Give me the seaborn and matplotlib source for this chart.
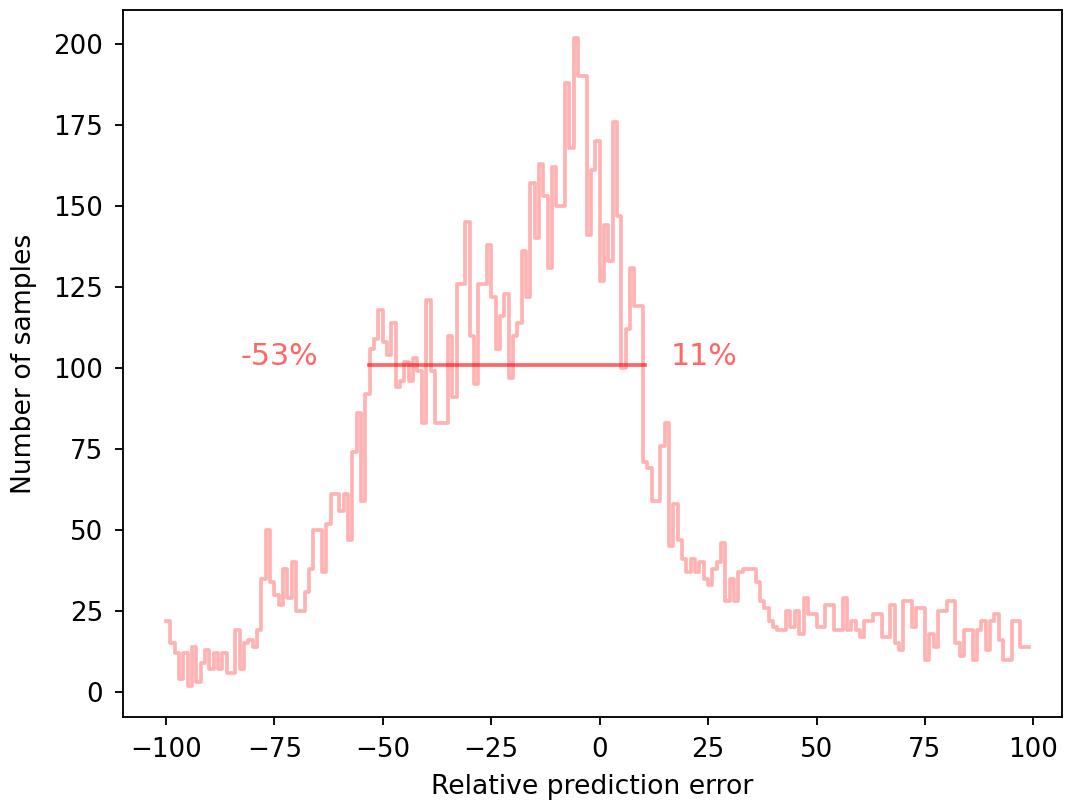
import numpy as np
import pandas as pd
import matplotlib
matplotlib.use("Agg")
import matplotlib.pyplot as plt
import seaborn as sns

# Histogram of relative prediction error (%), one bin per percent, left edges -100..98
bin_left = np.arange(-100, 99)
counts = [
    22, 15, 12, 4, 12, 2, 14, 3, 9, 13,          # -100 .. -91
    7, 12, 7, 12, 6, 6, 19, 7, 15, 16,           # -90 .. -81
    14, 19, 35, 50, 34, 30, 27, 38, 29, 40,      # -80 .. -71
    25, 25, 31, 38, 50, 50, 37, 52, 61, 61,      # -70 .. -61
    56, 61, 47, 74, 86, 59, 92, 106, 109, 118,   # -60 .. -51
    108, 104, 114, 94, 96, 102, 96, 103, 99, 83,   # -50 .. -41
    121, 99, 83, 83, 83, 110, 91, 126, 126, 145,  # -40 .. -31
    110, 95, 126, 126, 138, 122, 106, 116, 123, 97,  # -30 .. -21
    110, 114, 136, 122, 157, 140, 163, 153, 131, 162,  # -20 .. -11
    150, 150, 188, 168, 202, 190, 190, 141, 161, 170,  # -10 .. -1
    127, 144, 133, 176, 147, 100, 112, 131, 119, 119,  # 0 .. 9
    71, 69, 59, 59, 76, 83, 45, 58, 47, 41,      # 10 .. 19
    37, 41, 37, 40, 35, 33, 38, 40, 46, 28,      # 20 .. 29
    35, 28, 37, 38, 38, 38, 34, 28, 26, 22,      # 30 .. 39
    20, 19, 19, 25, 20, 25, 18, 29, 24, 24,      # 40 .. 49
    20, 20, 27, 27, 19, 19, 29, 19, 22, 19,      # 50 .. 59
    17, 22, 22, 24, 24, 17, 17, 27, 15, 13,      # 60 .. 69
    28, 28, 20, 26, 26, 10, 18, 14, 25, 25,      # 70 .. 79
    28, 28, 15, 11, 19, 19, 10, 19, 22, 13,      # 80 .. 89
    22, 24, 16, 10, 10, 22, 22, 14, 14,          # 90 .. 98
]

# width of the distribution at half of its peak
half_height = 101
fwhm_lo = -53.2
fwhm_hi = 10.4
lo_label = "-53%"
hi_label = "11%"

df = pd.DataFrame({"error": bin_left + 0.5, "count": counts})

fig = plt.figure(figsize=(1066 / 166.67, 801 / 166.67), dpi=166.67)
ax = fig.add_axes([123 / 1066, 1 - 717 / 801, (1062 - 123) / 1066, (717 - 10) / 801])

sns.histplot(
    data=df,
    x="error",
    weights="count",
    binwidth=1,
    binrange=(int(bin_left[0]), int(bin_left[-1]) + 1),
    element="step",
    fill=False,
    color="red",
    alpha=0.3,
    linewidth=1.6,
    ax=ax,
)

ax.plot([fwhm_lo, fwhm_hi], [half_height, half_height], color="red", alpha=0.6, linewidth=1.6)
ax.text(fwhm_lo - 29.5, half_height, lo_label, color="red", alpha=0.6, fontsize=13)
ax.text(fwhm_hi + 6, half_height, hi_label, color="red", alpha=0.6, fontsize=13)

ax.set_xlim(-109.9, 106.6)
ax.set_ylim(-7.7, 210.5)
ax.set_xticks(np.arange(-100, 101, 25))
ax.set_yticks(np.arange(0, 201, 25))
ax.tick_params(labelsize=11.3, pad=5)
ax.set_xlabel("Relative prediction error", fontsize=11.5, labelpad=5)
ax.set_ylabel("Number of samples", fontsize=11.5, labelpad=7)

fig.savefig("out.png", dpi=166.67)
plt.close(fig)
